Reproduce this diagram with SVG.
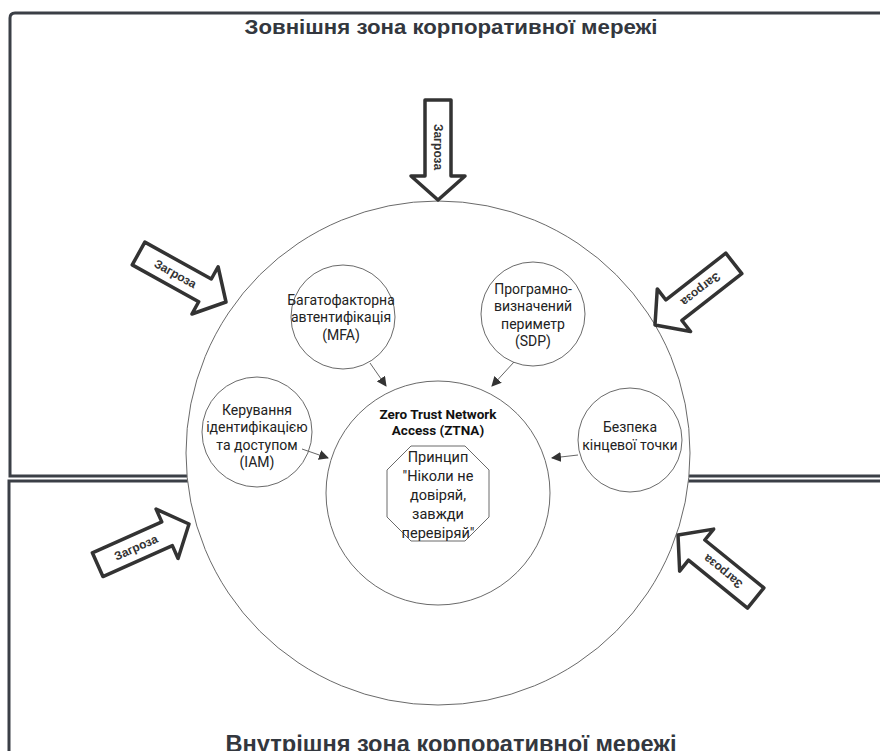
<svg xmlns="http://www.w3.org/2000/svg" width="880" height="751" viewBox="0 0 880 751">
<defs>
<style>
.zone{fill:#fff;stroke:#3b3f46;stroke-width:3}
.title{font-family:"Liberation Sans",Arial,sans-serif;font-weight:bold;fill:#33373e;text-anchor:middle}
.c{fill:#fff;stroke:#6a6a6a;stroke-width:1}
.t{font-family:Roboto,"Liberation Sans",sans-serif;font-size:14px;fill:#222;text-anchor:middle}
.tb{font-family:Roboto,"Liberation Sans",sans-serif;font-size:13.5px;font-weight:bold;fill:#111;text-anchor:middle}
.threat{fill:#fff;stroke:#333;stroke-width:3.5;stroke-linejoin:round}
.tt{font-family:"Liberation Sans",Arial,sans-serif;font-weight:bold;font-size:12px;fill:#333;text-anchor:middle;dominant-baseline:central}
.conn{stroke:#666;stroke-width:1;fill:none;marker-end:url(#ah)}
</style>
<marker id="ah" viewBox="0 0 10 10" refX="9" refY="5" markerWidth="10" markerHeight="10" markerUnits="userSpaceOnUse" orient="auto">
<path d="M0,0 L10,5 L0,10 Z" fill="#333"/>
</marker>
<path id="arr" d="M-100,-13 L-24,-13 L-24,-27 L0,0 L-24,27 L-24,13 L-100,13 Z"/>
</defs>
<rect width="880" height="751" fill="#fff"/>
<g id="outer-zone">
<path class="zone" d="M10,476 L10,18 Q10,13 15,13 L890,13 L890,476 Z"/>
<text class="title" x="451" y="34" font-size="21" textLength="413" lengthAdjust="spacingAndGlyphs">Зовнішня зона корпоративної мережі</text>
</g>
<g id="inner-zone">
<path class="zone" d="M9,760 L9,481 L890,481 L890,760"/>
<text class="title" x="451" y="752" font-size="23" textLength="451" lengthAdjust="spacingAndGlyphs">Внутрішня зона корпоративної мережі</text>
</g>
<g id="boundary">
<circle class="c" cx="438" cy="453" r="252"/>
</g>
<g id="ztna">
<circle class="c" cx="438" cy="493" r="112"/>
<text class="tb" x="438" y="419">Zero Trust Network</text>
<text class="tb" x="438" y="435">Access (ZTNA)</text>
</g>
<g id="principle">
<polygon class="c" points="411,446 465,446 489,470 489,517 465,541 411,541 387,517 387,470"/>
<text class="t" x="438" y="462" style="font-size:14.5px">Принцип</text>
<text class="t" x="438" y="481" style="font-size:14.5px">"Ніколи не</text>
<text class="t" x="438" y="500" style="font-size:14.5px">довіряй,</text>
<text class="t" x="438" y="519" style="font-size:14.5px">завжди</text>
<text class="t" x="438" y="538" style="font-size:14.5px">перевіряй"</text>
</g>
<g id="mfa">
<circle class="c" cx="343" cy="317" r="52"/>
<text class="t" x="341" y="305">Багатофакторна</text>
<text class="t" x="341" y="322">автентифікація</text>
<text class="t" x="341" y="340">(MFA)</text>
</g>
<g id="sdp">
<circle class="c" cx="533" cy="314" r="52"/>
<text class="t" x="533" y="294">Програмно-</text>
<text class="t" x="533" y="311">визначений</text>
<text class="t" x="533" y="329">периметр</text>
<text class="t" x="533" y="346">(SDP)</text>
</g>
<g id="iam">
<circle class="c" cx="257" cy="432" r="55"/>
<text class="t" x="257" y="415">Керування</text>
<text class="t" x="257" y="432">ідентифікацією</text>
<text class="t" x="257" y="450">та доступом</text>
<text class="t" x="257" y="467">(IAM)</text>
</g>
<g id="endpoint">
<circle class="c" cx="630" cy="440" r="52"/>
<text class="t" x="630" y="432">Безпека</text>
<text class="t" x="630" y="450">кінцевої точки</text>
</g>
<g id="connectors">
<line class="conn" x1="370" y1="363" x2="386" y2="386"/>
<line class="conn" x1="514" y1="362" x2="492" y2="386"/>
<line class="conn" x1="302" y1="449" x2="328" y2="458"/>
<line class="conn" x1="578" y1="455" x2="552" y2="458"/>
</g>
<g id="threat-top" transform="translate(438,200) rotate(90)">
<use href="#arr" class="threat"/>
<text class="tt" x="-53" y="0">Загроза</text>
</g>
<g id="threat-left-top" transform="translate(226,302) rotate(29)">
<use href="#arr" class="threat"/>
<text class="tt" x="-58" y="0">Загроза</text>
</g>
<g id="threat-right-top" transform="translate(655,325) rotate(142)">
<use href="#arr" class="threat"/>
<text class="tt" x="-58" y="0">Загроза</text>
</g>
<g id="threat-left-bottom" transform="translate(189,524) rotate(-24)">
<use href="#arr" class="threat"/>
<text class="tt" x="-58" y="0">Загроза</text>
</g>
<g id="threat-right-bottom" transform="translate(678,535) rotate(-141)">
<use href="#arr" class="threat"/>
<text class="tt" x="-58" y="0">Загроза</text>
</g>
</svg>
